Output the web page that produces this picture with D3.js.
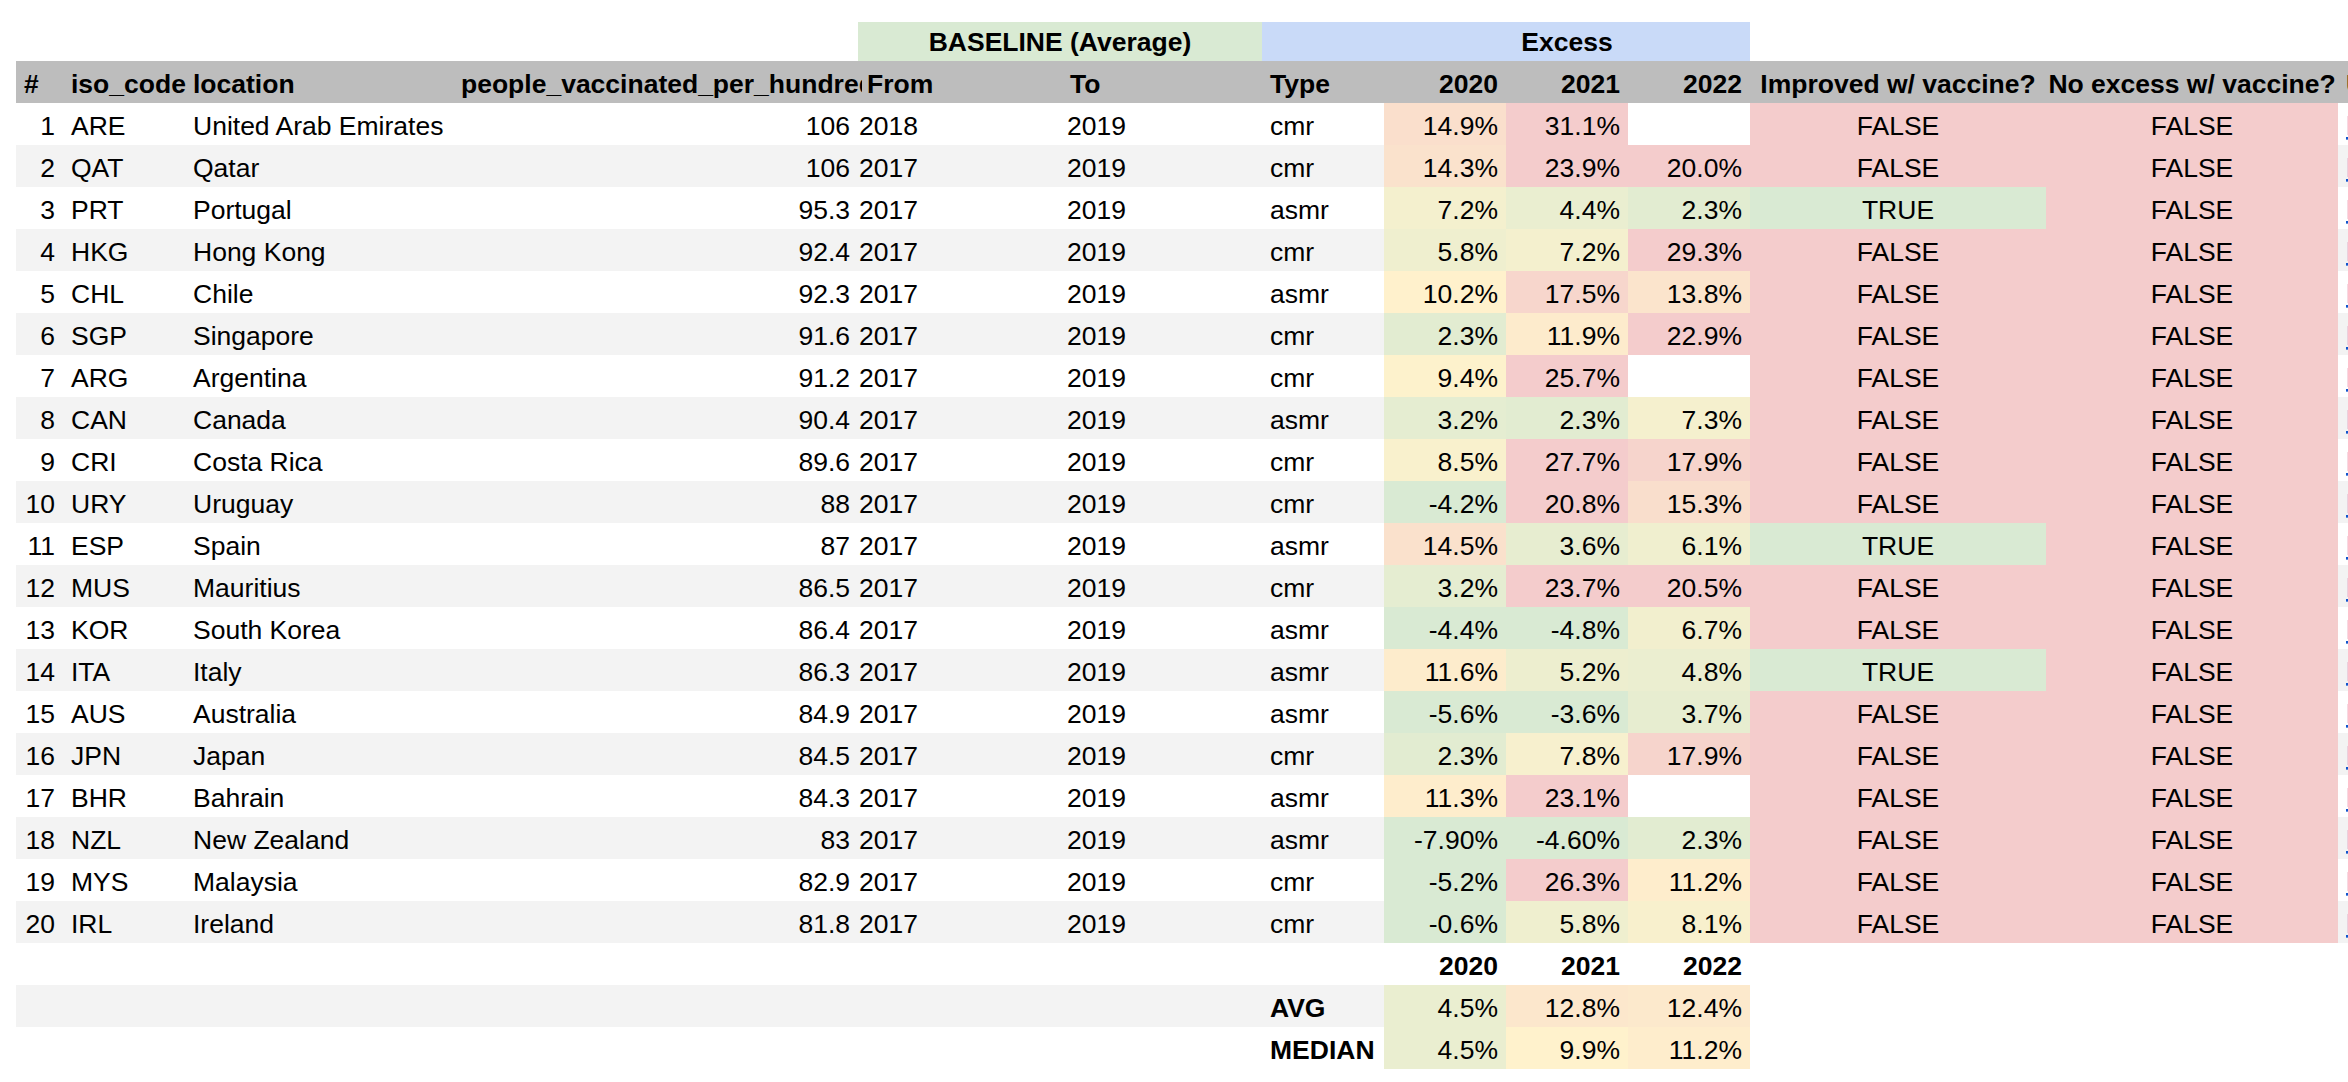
<!DOCTYPE html>
<html>
<head>
<meta charset="utf-8">
<script src="https://cdn.jsdelivr.net/npm/d3@7"></script>
<style>
  html, body { margin: 0; padding: 0; background: #fff; }
  svg text { font-family: "Liberation Sans", Arial, sans-serif; font-size: 26.5px; fill: #000; }
  svg text.b { font-weight: bold; }
</style>
</head>
<body>
<svg id="chart" width="2348" height="1082"></svg>
<script>
// ---------- DATA ----------
const isoCodes = ["ARE","QAT","PRT","HKG","CHL","SGP","ARG","CAN","CRI","URY","ESP","MUS","KOR","ITA","AUS","JPN","BHR","NZL","MYS","IRL"];
const locations = ["United Arab Emirates","Qatar","Portugal","Hong Kong","Chile","Singapore","Argentina","Canada","Costa Rica","Uruguay","Spain","Mauritius","South Korea","Italy","Australia","Japan","Bahrain","New Zealand","Malaysia","Ireland"];
const vaccinated = [106,106,95.3,92.4,92.3,91.6,91.2,90.4,89.6,88,87,86.5,86.4,86.3,84.9,84.5,84.3,83,82.9,81.8];
const baselineFrom = [2018,2017,2017,2017,2017,2017,2017,2017,2017,2017,2017,2017,2017,2017,2017,2017,2017,2017,2017,2017];
const baselineTo = [2019,2019,2019,2019,2019,2019,2019,2019,2019,2019,2019,2019,2019,2019,2019,2019,2019,2019,2019,2019];
const types = ["cmr","cmr","asmr","cmr","asmr","cmr","cmr","asmr","cmr","cmr","asmr","cmr","asmr","asmr","asmr","cmr","asmr","asmr","cmr","cmr"];
const excess2020 = [14.9,14.3,7.2,5.8,10.2,2.3,9.4,3.2,8.5,-4.2,14.5,3.2,-4.4,11.6,-5.6,2.3,11.3,-7.90,-5.2,-0.6];
const excess2021 = [31.1,23.9,4.4,7.2,17.5,11.9,25.7,2.3,27.7,20.8,3.6,23.7,-4.8,5.2,-3.6,7.8,23.1,-4.60,26.3,5.8];
const excess2022 = [null,20.0,2.3,29.3,13.8,22.9,null,7.3,17.9,15.3,6.1,20.5,6.7,4.8,3.7,17.9,null,2.3,11.2,8.1];
const twoDecimalCells = ["NZL-2020","NZL-2021"]; // shown as -7.90% / -4.60% in the sheet
const improved = [false,false,true,false,false,false,false,false,false,false,true,false,false,true,false,false,false,false,false,false];
const noExcess = [false,false,false,false,false,false,false,false,false,false,false,false,false,false,false,false,false,false,false,false];
const years = ["2020","2021","2022"];
const avgValues = [4.5,12.8,12.4];
const medianValues = [4.5,9.9,11.2];
const headerLabels = ["#","iso_code","location","people_vaccinated_per_hundred","From","To","Type","2020","2021","2022","Improved w/ vaccine?","No excess w/ vaccine?","URL"];

// ---------- LAYOUT ----------
const W = 2348, H = 1082;
const svg = d3.select("#chart");
const left = 16;
const col = {
  num: [16, 63], iso: [63, 185], loc: [185, 453], vac: [453, 862], from: [858, 1062],
  to: [1062, 1262], type: [1262, 1384], y2020: [1384, 1506], y2021: [1506, 1628], y2022: [1628, 1750],
  imp: [1750, 2046], nox: [2046, 2338], url: [2338, 2600]
};
const padL = 8, padR = 8;
const groupTop = 22, headerTop = 61, rowH = 42;
const y = d3.scaleBand().domain(d3.range(isoCodes.length)).range([headerTop + rowH, headerTop + rowH * (isoCodes.length + 1)]).paddingInner(0);
const bodyBottom = y.range()[1];
const baseline = 32;

const color = d3.scaleLinear().domain([0, 10, 20]).range(["#d9ead3", "#fff2cc", "#f4cccc"]).clamp(true);
const yearCols = [col.y2020, col.y2021, col.y2022];
const yearData = [excess2020, excess2021, excess2022];

function fmtPct(v, key) {
  if (v == null) return "";
  return twoDecimalCells.includes(key) ? v.toFixed(2) + "%" : v.toFixed(1) + "%";
}

const defs = svg.append("defs");
function clipFor(id, x0, x1) {
  defs.append("clipPath").attr("id", id).append("rect").attr("x", x0).attr("y", 0).attr("width", x1 - x0).attr("height", H);
  return `url(#${id})`;
}

// ---------- GROUP HEADER ----------
svg.append("rect").attr("x", col.from[0]).attr("y", groupTop).attr("width", col.type[0] - col.from[0]).attr("height", headerTop - groupTop).attr("fill", "#d9ead3");
svg.append("rect").attr("x", col.type[0]).attr("y", groupTop).attr("width", col.y2022[1] - col.type[0]).attr("height", headerTop - groupTop).attr("fill", "#c9daf8");
svg.append("text").attr("class", "b").attr("x", (col.from[0] + col.type[0]) / 2).attr("y", groupTop + 29).attr("text-anchor", "middle").text("BASELINE (Average)");
svg.append("text").attr("class", "b").attr("x", (col.y2020[0] + col.y2022[1]) / 2).attr("y", groupTop + 29).attr("text-anchor", "middle").text("Excess");

// ---------- HEADER ROW ----------
svg.append("rect").attr("x", left).attr("y", headerTop).attr("width", W - left).attr("height", rowH).attr("fill", "#bdbdbd");
const headerSpec = [
  [col.num, "start", 8], [col.iso, "start", 8], [col.loc, "start", 8], [col.vac, "start", 8], [col.from, "start", 9], [col.to, "start", 8],
  [col.type, "start", 8], [col.y2020, "end", 8], [col.y2021, "end", 8], [col.y2022, "end", 8], [col.imp, "middle", 0], [col.nox, "middle", 0], [col.url, "start", 8]
];
const hg = svg.append("g");
headerSpec.forEach(([c, anchor, pad], i) => {
  const x = anchor === "start" ? c[0] + pad : anchor === "end" ? c[1] - pad : (c[0] + c[1]) / 2;
  const t = hg.append("text").attr("class", "b").attr("x", x).attr("y", headerTop + baseline).attr("text-anchor", anchor).text(headerLabels[i]);
  if (i === 3) t.attr("clip-path", clipFor("clipVac", c[0], c[1]));
});

// ---------- BODY ROWS ----------
const rows = svg.append("g").selectAll("g").data(d3.range(isoCodes.length)).join("g")
  .attr("transform", i => `translate(0,${y(i)})`);

rows.append("rect").attr("x", left).attr("y", 0).attr("width", W - left).attr("height", y.bandwidth())
  .attr("fill", i => i % 2 === 1 ? "#f3f3f3" : "#ffffff");

yearCols.forEach((c, k) => {
  rows.append("rect")
    .attr("x", c[0]).attr("y", 0).attr("width", c[1] - c[0]).attr("height", y.bandwidth())
    .attr("fill", i => yearData[k][i] == null ? "#ffffff" : color(yearData[k][i]));
  rows.append("text").attr("x", c[1] - padR).attr("y", baseline).attr("text-anchor", "end")
    .text(i => fmtPct(yearData[k][i], isoCodes[i] + "-" + years[k]));
});

[[col.imp, improved], [col.nox, noExcess]].forEach(([c, arr]) => {
  rows.append("rect").attr("x", c[0]).attr("y", 0).attr("width", c[1] - c[0]).attr("height", y.bandwidth())
    .attr("fill", i => arr[i] ? "#d9ead3" : "#f4cccc");
  rows.append("text").attr("x", (c[0] + c[1]) / 2).attr("y", baseline).attr("text-anchor", "middle")
    .text(i => arr[i] ? "TRUE" : "FALSE");
});

rows.append("text").attr("x", col.num[1] - padR).attr("y", baseline).attr("text-anchor", "end").text(i => i + 1);
rows.append("text").attr("x", col.iso[0] + padL).attr("y", baseline).text(i => isoCodes[i]);
rows.append("text").attr("x", col.loc[0] + padL).attr("y", baseline).text(i => locations[i]);
rows.append("text").attr("x", 858 - padR).attr("y", baseline).attr("text-anchor", "end").text(i => vaccinated[i]);
rows.append("text").attr("x", col.from[0] + 1).attr("y", baseline).text(i => baselineFrom[i]);
rows.append("text").attr("x", col.to[0] + 5).attr("y", baseline).text(i => baselineTo[i]);
rows.append("text").attr("x", col.type[0] + padL).attr("y", baseline).text(i => types[i]);
rows.append("text").attr("x", col.url[0] + padL).attr("y", baseline)
  .attr("style", "fill:#1155cc;text-decoration:underline").text(i => "https://ourworldindata.org/" + isoCodes[i].toLowerCase());

// ---------- SUMMARY ----------
const yearRowTop = bodyBottom;
yearCols.forEach((c, k) => {
  svg.append("text").attr("class", "b").attr("x", c[1] - padR).attr("y", yearRowTop + baseline).attr("text-anchor", "end").text(years[k]);
});
const summary = [["AVG", avgValues, "#f3f3f3"], ["MEDIAN", medianValues, "#ffffff"]];
summary.forEach(([label, vals, bg], j) => {
  const top = yearRowTop + rowH * (j + 1);
  svg.append("rect").attr("x", left).attr("y", top).attr("width", col.y2022[1] - left).attr("height", rowH).attr("fill", bg);
  svg.append("text").attr("class", "b").attr("x", col.type[0] + padL).attr("y", top + baseline).text(label);
  yearCols.forEach((c, k) => {
    svg.append("rect").attr("x", c[0]).attr("y", top).attr("width", c[1] - c[0]).attr("height", rowH).attr("fill", color(vals[k]));
    svg.append("text").attr("x", c[1] - padR).attr("y", top + baseline).attr("text-anchor", "end").text(vals[k].toFixed(1) + "%");
  });
});
</script>
</body>
</html>
